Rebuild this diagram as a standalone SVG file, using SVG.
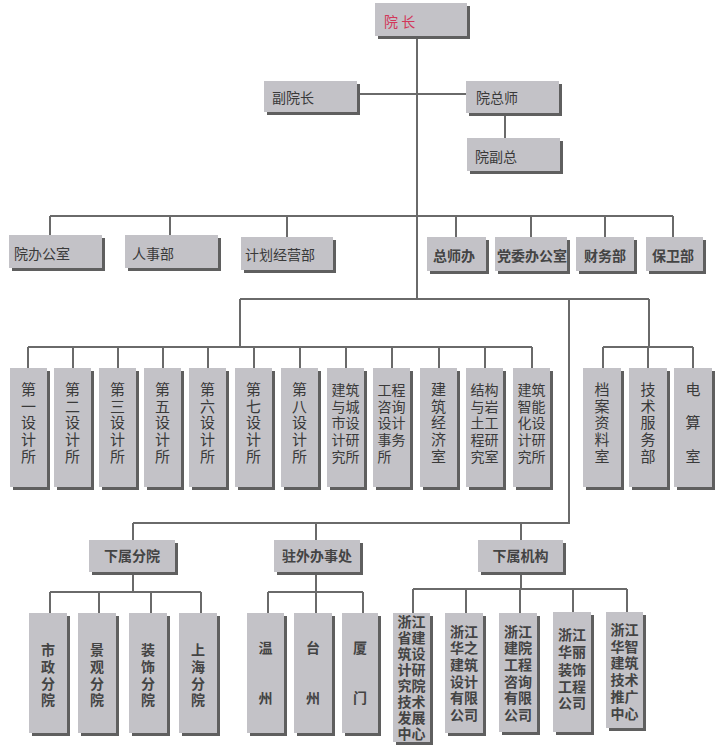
<svg xmlns="http://www.w3.org/2000/svg" width="717" height="750" viewBox="0 0 717 750">
<style>
.bg{fill:#ffffff}
.sh{fill:#5f5f5f}
.bx{fill:#c3c2c7}
.ln{stroke:#6a6a6a;stroke-width:2;fill:none}
.t{font-family:"Noto Sans CJK SC","Liberation Sans",sans-serif;font-size:14px;fill:#3a3a3a}
.tv{font-family:"Noto Sans CJK SC","Liberation Sans",sans-serif;font-size:15px;fill:#3a3a3a;text-anchor:middle}
.tv2{font-family:"Noto Sans CJK SC","Liberation Sans",sans-serif;font-size:14px;fill:#3a3a3a;text-anchor:middle}
.b{font-family:"Noto Sans CJK SC","Liberation Sans",sans-serif;font-size:14px;font-weight:bold;fill:#444}
.bc{font-family:"Noto Sans CJK SC","Liberation Sans",sans-serif;font-size:14px;font-weight:bold;fill:#444;text-anchor:middle}
.red{fill:#d2375a}
</style>
<rect class="bg" x="0" y="0" width="717" height="750"/>
<g id="connectors" class="ln">
<path d="M417,36V299"/>
<path d="M358,94H466"/>
<path d="M505,113V138"/>
<path d="M50,216H673M50,216V236M170,216V236M287,216V238M456,216V238M531,216V238M605,216V238M673,216V238"/>
<path d="M240,299H649M240,299V347"/>
<path d="M28,347H532M28,347V368M73,347V368M118,347V368M163,347V368M208,347V368M254,347V368M300,347V368M346,347V368M392,347V368M439,347V368M485,347V368M532,347V368"/>
<path d="M649,299V347M603,347H693M603,347V368M648,347V368M693,347V368"/>
<path d="M569,299V523H133M133,523V540M316,523V540M521,523V540"/>
<path d="M133,572V592M50,592H201M50,592V613M99,592V613M151,592V613M201,592V613"/>
<path d="M316,572V592M268,592H363M268,592V613M316,592V613M363,592V613"/>
<path d="M521,572V589M413,589H627M413,589V613M466,589V613M520,589V613M573,589V612M627,589V612"/>
</g>
<g id="n-yuanzhang"><rect class="sh" x="378" y="6" width="92" height="33"/><rect class="bx" x="375" y="3" width="92" height="33"/><text class="t red" x="384" y="27" font-size="15">院 长</text></g>
<g id="n-fuyuanzhang"><rect class="sh" x="267" y="84" width="93" height="31"/><rect class="bx" x="264" y="81" width="93" height="31"/><text class="t" x="272" y="103">副院长</text></g>
<g id="n-yuanzongshi"><rect class="sh" x="469" y="84" width="93" height="32"/><rect class="bx" x="466" y="81" width="93" height="32"/><text class="t" x="476" y="103">院总师</text></g>
<g id="n-yuanfuzong"><rect class="sh" x="470" y="141" width="93" height="33"/><rect class="bx" x="467" y="138" width="93" height="33"/><text class="t" x="475" y="162">院副总</text></g>

<g id="n-bangongshi"><rect class="sh" x="12" y="238" width="93" height="33"/><rect class="bx" x="9" y="235" width="93" height="33"/><text class="t" x="14" y="259">院办公室</text></g>
<g id="n-renshibu"><rect class="sh" x="128" y="238" width="93" height="33"/><rect class="bx" x="125" y="235" width="93" height="33"/><text class="t" x="132" y="259">人事部</text></g>
<g id="n-jihua"><rect class="sh" x="244" y="240" width="92" height="33"/><rect class="bx" x="241" y="237" width="92" height="33"/><text class="t" x="245" y="260">计划经营部</text></g>
<g id="n-zongshiban"><rect class="sh" x="430" y="240" width="59" height="34"/><rect class="bx" x="427" y="237" width="59" height="34"/><text class="b" x="433" y="261">总师办</text></g>
<g id="n-dangwei"><rect class="sh" x="498" y="240" width="72" height="34"/><rect class="bx" x="495" y="237" width="72" height="34"/><text class="b" x="497" y="261">党委办公室</text></g>
<g id="n-caiwu"><rect class="sh" x="579" y="240" width="58" height="34"/><rect class="bx" x="576" y="237" width="58" height="34"/><text class="b" x="584" y="261">财务部</text></g>
<g id="n-baowei"><rect class="sh" x="649" y="240" width="57" height="34"/><rect class="bx" x="646" y="237" width="57" height="34"/><text class="b" x="652" y="261">保卫部</text></g>

<g id="n-s1"><rect class="sh" x="13" y="371" width="37" height="119"/><rect class="bx" x="10" y="368" width="37" height="119"/><text class="tv"><tspan x="28.5" y="395">第</tspan><tspan x="28.5" y="412">一</tspan><tspan x="28.5" y="428">设</tspan><tspan x="28.5" y="445">计</tspan><tspan x="28.5" y="462">所</tspan></text></g>
<g id="n-s2"><rect class="sh" x="57" y="371" width="37" height="119"/><rect class="bx" x="54" y="368" width="37" height="119"/><text class="tv"><tspan x="72.5" y="395">第</tspan><tspan x="72.5" y="412">二</tspan><tspan x="72.5" y="428">设</tspan><tspan x="72.5" y="445">计</tspan><tspan x="72.5" y="462">所</tspan></text></g>
<g id="n-s3"><rect class="sh" x="102" y="371" width="37" height="119"/><rect class="bx" x="99" y="368" width="37" height="119"/><text class="tv"><tspan x="117.5" y="395">第</tspan><tspan x="117.5" y="412">三</tspan><tspan x="117.5" y="428">设</tspan><tspan x="117.5" y="445">计</tspan><tspan x="117.5" y="462">所</tspan></text></g>
<g id="n-s5"><rect class="sh" x="147" y="371" width="37" height="119"/><rect class="bx" x="144" y="368" width="37" height="119"/><text class="tv"><tspan x="162.5" y="395">第</tspan><tspan x="162.5" y="412">五</tspan><tspan x="162.5" y="428">设</tspan><tspan x="162.5" y="445">计</tspan><tspan x="162.5" y="462">所</tspan></text></g>
<g id="n-s6"><rect class="sh" x="192" y="371" width="37" height="119"/><rect class="bx" x="189" y="368" width="37" height="119"/><text class="tv"><tspan x="207.5" y="395">第</tspan><tspan x="207.5" y="412">六</tspan><tspan x="207.5" y="428">设</tspan><tspan x="207.5" y="445">计</tspan><tspan x="207.5" y="462">所</tspan></text></g>
<g id="n-s7"><rect class="sh" x="238" y="371" width="37" height="119"/><rect class="bx" x="235" y="368" width="37" height="119"/><text class="tv"><tspan x="253.5" y="395">第</tspan><tspan x="253.5" y="412">七</tspan><tspan x="253.5" y="428">设</tspan><tspan x="253.5" y="445">计</tspan><tspan x="253.5" y="462">所</tspan></text></g>
<g id="n-s8"><rect class="sh" x="284" y="371" width="37" height="119"/><rect class="bx" x="281" y="368" width="37" height="119"/><text class="tv"><tspan x="299.5" y="395">第</tspan><tspan x="299.5" y="412">八</tspan><tspan x="299.5" y="428">设</tspan><tspan x="299.5" y="445">计</tspan><tspan x="299.5" y="462">所</tspan></text></g>
<g id="n-chengshi"><rect class="sh" x="330" y="371" width="37" height="119"/><rect class="bx" x="327" y="368" width="37" height="119"/><text class="tv2"><tspan x="345.5" y="395">建筑</tspan><tspan x="345.5" y="412">与城</tspan><tspan x="345.5" y="428">市设</tspan><tspan x="345.5" y="445">计研</tspan><tspan x="345.5" y="462">究所</tspan></text></g>
<g id="n-zixun"><rect class="sh" x="376" y="371" width="37" height="119"/><rect class="bx" x="373" y="368" width="37" height="119"/><text class="tv2"><tspan x="391.5" y="395">工程</tspan><tspan x="391.5" y="412">咨询</tspan><tspan x="391.5" y="428">设计</tspan><tspan x="391.5" y="445">事务</tspan><tspan x="384.5" y="462">所</tspan></text></g>
<g id="n-jingji"><rect class="sh" x="423" y="371" width="37" height="119"/><rect class="bx" x="420" y="368" width="37" height="119"/><text class="tv"><tspan x="438.5" y="395">建</tspan><tspan x="438.5" y="412">筑</tspan><tspan x="438.5" y="428">经</tspan><tspan x="438.5" y="445">济</tspan><tspan x="438.5" y="462">室</tspan></text></g>
<g id="n-jiegou"><rect class="sh" x="469" y="371" width="37" height="119"/><rect class="bx" x="466" y="368" width="37" height="119"/><text class="tv2"><tspan x="484.5" y="395">结构</tspan><tspan x="484.5" y="412">与岩</tspan><tspan x="484.5" y="428">土工</tspan><tspan x="484.5" y="445">程研</tspan><tspan x="484.5" y="462">究室</tspan></text></g>
<g id="n-zhineng"><rect class="sh" x="516" y="371" width="37" height="119"/><rect class="bx" x="513" y="368" width="37" height="119"/><text class="tv2"><tspan x="531.5" y="395">建筑</tspan><tspan x="531.5" y="412">智能</tspan><tspan x="531.5" y="428">化设</tspan><tspan x="531.5" y="445">计研</tspan><tspan x="531.5" y="462">究所</tspan></text></g>

<g id="n-dangan"><rect class="sh" x="586" y="371" width="38" height="119"/><rect class="bx" x="583" y="368" width="38" height="119"/><text class="tv"><tspan x="602" y="395">档</tspan><tspan x="602" y="412">案</tspan><tspan x="602" y="428">资</tspan><tspan x="602" y="445">料</tspan><tspan x="602" y="462">室</tspan></text></g>
<g id="n-jishu"><rect class="sh" x="632" y="371" width="38" height="119"/><rect class="bx" x="629" y="368" width="38" height="119"/><text class="tv"><tspan x="648" y="395">技</tspan><tspan x="648" y="412">术</tspan><tspan x="648" y="428">服</tspan><tspan x="648" y="445">务</tspan><tspan x="648" y="462">部</tspan></text></g>
<g id="n-diansuan"><rect class="sh" x="677" y="371" width="38" height="119"/><rect class="bx" x="674" y="368" width="38" height="119"/><text class="tv"><tspan x="693" y="395">电</tspan><tspan x="693" y="428">算</tspan><tspan x="693" y="462">室</tspan></text></g>

<g id="n-fenyuan"><rect class="sh" x="92" y="543" width="86" height="32"/><rect class="bx" x="89" y="540" width="86" height="32"/><text class="bc" x="132" y="561">下属分院</text></g>
<g id="n-zhuwai"><rect class="sh" x="277" y="543" width="86" height="32"/><rect class="bx" x="274" y="540" width="86" height="32"/><text class="bc" x="317" y="561">驻外办事处</text></g>
<g id="n-jigou"><rect class="sh" x="481" y="543" width="85" height="32"/><rect class="bx" x="478" y="540" width="85" height="32"/><text class="bc" x="520.5" y="561">下属机构</text></g>

<g id="n-shizheng"><rect class="sh" x="32" y="616" width="38" height="120"/><rect class="bx" x="29" y="613" width="38" height="120"/><text class="bc"><tspan x="48" y="655">市</tspan><tspan x="48" y="672">政</tspan><tspan x="48" y="689">分</tspan><tspan x="48" y="705">院</tspan></text></g>
<g id="n-jingguan"><rect class="sh" x="81" y="616" width="38" height="120"/><rect class="bx" x="78" y="613" width="38" height="120"/><text class="bc"><tspan x="97" y="655">景</tspan><tspan x="97" y="672">观</tspan><tspan x="97" y="689">分</tspan><tspan x="97" y="705">院</tspan></text></g>
<g id="n-zhuangshi"><rect class="sh" x="132" y="616" width="38" height="120"/><rect class="bx" x="129" y="613" width="38" height="120"/><text class="bc"><tspan x="148" y="655">装</tspan><tspan x="148" y="672">饰</tspan><tspan x="148" y="689">分</tspan><tspan x="148" y="705">院</tspan></text></g>
<g id="n-shanghai"><rect class="sh" x="182" y="616" width="38" height="120"/><rect class="bx" x="179" y="613" width="38" height="120"/><text class="bc"><tspan x="198" y="655">上</tspan><tspan x="198" y="672">海</tspan><tspan x="198" y="689">分</tspan><tspan x="198" y="705">院</tspan></text></g>

<g id="n-wenzhou"><rect class="sh" x="250" y="616" width="37" height="120"/><rect class="bx" x="247" y="613" width="37" height="120"/><text class="bc"><tspan x="265.5" y="653">温</tspan><tspan x="265.5" y="703">州</tspan></text></g>
<g id="n-taizhou"><rect class="sh" x="297" y="616" width="38" height="120"/><rect class="bx" x="294" y="613" width="38" height="120"/><text class="bc"><tspan x="313" y="653">台</tspan><tspan x="313" y="703">州</tspan></text></g>
<g id="n-xiamen"><rect class="sh" x="345" y="616" width="36" height="120"/><rect class="bx" x="342" y="613" width="36" height="120"/><text class="bc"><tspan x="360" y="653">厦</tspan><tspan x="360" y="703">门</tspan></text></g>

<g id="n-zjsheng"><rect class="sh" x="396" y="616" width="37" height="129"/><rect class="bx" x="393" y="613" width="37" height="129"/><text class="bc"><tspan x="411.5" y="627">浙江</tspan><tspan x="411.5" y="643">省建</tspan><tspan x="411.5" y="659">筑设</tspan><tspan x="411.5" y="675">计研</tspan><tspan x="411.5" y="691">究院</tspan><tspan x="411.5" y="707">技术</tspan><tspan x="411.5" y="723">发展</tspan><tspan x="411.5" y="739">中心</tspan></text></g>
<g id="n-huazhi"><rect class="sh" x="448" y="616" width="38" height="120"/><rect class="bx" x="445" y="613" width="38" height="120"/><text class="bc"><tspan x="464" y="637">浙江</tspan><tspan x="464" y="653">华之</tspan><tspan x="464" y="670">建筑</tspan><tspan x="464" y="687">设计</tspan><tspan x="464" y="703">有限</tspan><tspan x="464" y="720">公司</tspan></text></g>
<g id="n-jianyuan"><rect class="sh" x="502" y="616" width="38" height="119"/><rect class="bx" x="499" y="613" width="38" height="119"/><text class="bc"><tspan x="518" y="637">浙江</tspan><tspan x="518" y="653">建院</tspan><tspan x="518" y="670">工程</tspan><tspan x="518" y="687">咨询</tspan><tspan x="518" y="703">有限</tspan><tspan x="518" y="720">公司</tspan></text></g>
<g id="n-huali"><rect class="sh" x="556" y="615" width="38" height="120"/><rect class="bx" x="553" y="612" width="38" height="120"/><text class="bc"><tspan x="572" y="640">浙江</tspan><tspan x="572" y="657">华丽</tspan><tspan x="572" y="675">装饰</tspan><tspan x="572" y="692">工程</tspan><tspan x="572" y="708">公司</tspan></text></g>
<g id="n-huazhi2"><rect class="sh" x="609" y="615" width="37" height="116"/><rect class="bx" x="606" y="612" width="37" height="116"/><text class="bc"><tspan x="624.5" y="635">浙江</tspan><tspan x="624.5" y="652">华智</tspan><tspan x="624.5" y="668">建筑</tspan><tspan x="624.5" y="685">技术</tspan><tspan x="624.5" y="702">推广</tspan><tspan x="624.5" y="719">中心</tspan></text></g>
</svg>
